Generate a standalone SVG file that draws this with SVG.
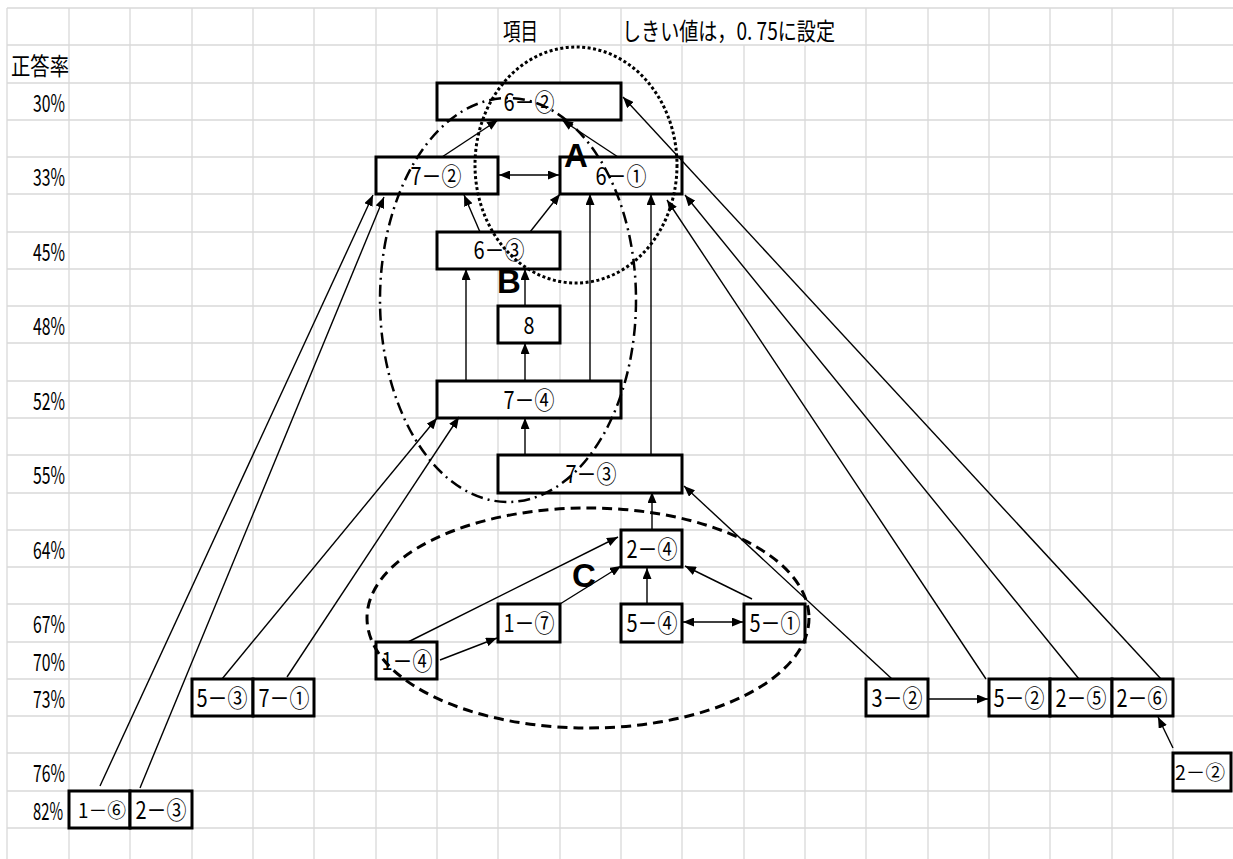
<svg xmlns="http://www.w3.org/2000/svg" width="1233" height="859" viewBox="0 0 1233 859">
<style>
.grid{stroke:#d9d9d9;stroke-width:1.3;fill:none}
.box{fill:#fff;stroke:#000;stroke-width:3}
.lbl{font-family:"Noto Sans CJK JP","Liberation Sans",sans-serif;font-size:24px;fill:#000;text-anchor:middle}
.sm{font-size:20px}
.pct{font-family:"Noto Sans CJK JP","Liberation Sans",sans-serif;font-size:24px;fill:#000;text-anchor:end}
.hdr{font-family:"Noto Sans CJK JP","Liberation Sans",sans-serif;font-size:24px;fill:#000}
.big{font-family:"Liberation Sans","Noto Sans CJK JP",sans-serif;font-size:33px;font-weight:bold;fill:#000}
.cn{stroke:#000;stroke-width:1.4;fill:none;marker-end:url(#ah)}
.dbl{marker-start:url(#ah)}
.ovl{fill:none;stroke:#000}
</style>
<defs>
<marker id="ah" markerUnits="userSpaceOnUse" markerWidth="11" markerHeight="9" refX="11" refY="4.5" orient="auto-start-reverse"><path d="M0,0 L11,4.5 L0,9 z" fill="#000"/></marker>
</defs>
<rect width="1233" height="859" fill="#fff"/>
<g id="grid">
<path class="grid" d="M7,8V859 M69,8V859 M130,8V859 M192,8V859 M253,8V859 M314,8V859 M376,8V859 M437,8V859 M498,8V859 M560,8V859 M621,8V859 M682,45V859 M744,45V859 M805,45V859 M866,8V859 M928,8V859 M989,8V859 M1050,8V859 M1112,8V859 M1173,8V859
M7,8H1233 M7,45H1233 M7,83H1233 M7,120H1233 M7,157H1233 M7,194H1233 M7,232H1233 M7,269H1233 M7,306H1233 M7,343H1233 M7,381H1233 M7,418H1233 M7,455H1233 M7,493H1233 M7,530H1233 M7,567H1233 M7,604H1233 M7,642H1233 M7,679H1233 M7,716H1233 M7,753H1233 M7,791H1233 M7,828H1233"/>
</g>
<g id="headers">
<text class="hdr" x="503" y="40" textLength="35" lengthAdjust="spacingAndGlyphs">項目</text>
<text class="hdr" x="622" y="40" textLength="213" lengthAdjust="spacingAndGlyphs">しきい値は，0. 75に設定</text>
<text class="hdr" x="11" y="75" textLength="58" lengthAdjust="spacingAndGlyphs">正答率</text>
<text class="pct" x="65" y="112" textLength="32" lengthAdjust="spacingAndGlyphs">30%</text>
<text class="pct" x="65" y="186" textLength="32" lengthAdjust="spacingAndGlyphs">33%</text>
<text class="pct" x="65" y="261" textLength="32" lengthAdjust="spacingAndGlyphs">45%</text>
<text class="pct" x="65" y="335" textLength="32" lengthAdjust="spacingAndGlyphs">48%</text>
<text class="pct" x="65" y="410" textLength="32" lengthAdjust="spacingAndGlyphs">52%</text>
<text class="pct" x="65" y="484" textLength="32" lengthAdjust="spacingAndGlyphs">55%</text>
<text class="pct" x="65" y="559" textLength="32" lengthAdjust="spacingAndGlyphs">64%</text>
<text class="pct" x="65" y="633" textLength="32" lengthAdjust="spacingAndGlyphs">67%</text>
<text class="pct" x="65" y="671" textLength="32" lengthAdjust="spacingAndGlyphs">70%</text>
<text class="pct" x="65" y="708" textLength="32" lengthAdjust="spacingAndGlyphs">73%</text>
<text class="pct" x="65" y="782" textLength="32" lengthAdjust="spacingAndGlyphs">76%</text>
<text class="pct" x="63" y="820" font-size="20" textLength="30" lengthAdjust="spacingAndGlyphs">82%</text>
</g>
<g id="n6_2"><rect class="box" x="437" y="83" width="184" height="37"/><text class="lbl" x="529" y="111" textLength="51" lengthAdjust="spacingAndGlyphs">6－②</text></g>
<g id="n7_2"><rect class="box" x="376" y="157" width="122" height="37"/><text class="lbl" x="436" y="185" textLength="51" lengthAdjust="spacingAndGlyphs">7－②</text></g>
<g id="n6_1"><rect class="box" x="560" y="157" width="122" height="37"/><text class="lbl" x="621" y="185" textLength="51" lengthAdjust="spacingAndGlyphs">6－①</text></g>
<g id="n6_3"><rect class="box" x="437" y="232" width="123" height="37"/><text class="lbl" x="499" y="259" textLength="51" lengthAdjust="spacingAndGlyphs">6－③</text></g>
<g id="n8"><rect class="box" x="498" y="306" width="62" height="37"/><text class="lbl" x="529" y="334" textLength="11" lengthAdjust="spacingAndGlyphs">8</text></g>
<g id="n7_4"><rect class="box" x="437" y="381" width="184" height="37"/><text class="lbl" x="529" y="409" textLength="51" lengthAdjust="spacingAndGlyphs">7－④</text></g>
<g id="n7_3"><rect class="box" x="498" y="455" width="184" height="38"/><text class="lbl" x="591" y="483" textLength="51" lengthAdjust="spacingAndGlyphs">7－③</text></g>
<g id="n2_4"><rect class="box" x="621" y="530" width="61" height="37"/><text class="lbl" x="652" y="558" textLength="51" lengthAdjust="spacingAndGlyphs">2－④</text></g>
<g id="n1_7"><rect class="box" x="498" y="604" width="62" height="38"/><text class="lbl" x="529" y="632" textLength="51" lengthAdjust="spacingAndGlyphs">1－⑦</text></g>
<g id="n5_4"><rect class="box" x="621" y="604" width="61" height="38"/><text class="lbl" x="652" y="632" textLength="51" lengthAdjust="spacingAndGlyphs">5－④</text></g>
<g id="n5_1"><rect class="box" x="744" y="604" width="61" height="38"/><text class="lbl" x="775" y="632" textLength="51" lengthAdjust="spacingAndGlyphs">5－①</text></g>
<g id="n1_4"><rect class="box" x="376" y="642" width="61" height="37"/><text class="lbl" x="407" y="670" textLength="51" lengthAdjust="spacingAndGlyphs">1－④</text></g>
<g id="n5_3"><rect class="box" x="192" y="679" width="61" height="37"/><text class="lbl" x="222" y="707" textLength="51" lengthAdjust="spacingAndGlyphs">5－③</text></g>
<g id="n7_1"><rect class="box" x="253" y="679" width="61" height="37"/><text class="lbl" x="284" y="707" textLength="51" lengthAdjust="spacingAndGlyphs">7－①</text></g>
<g id="n1_6"><rect class="box" x="69" y="791" width="61" height="37"/><text class="lbl sm" x="102" y="818" textLength="48" lengthAdjust="spacingAndGlyphs">1－⑥</text></g>
<g id="n2_3"><rect class="box" x="130" y="791" width="62" height="37"/><text class="lbl" x="161" y="819" textLength="51" lengthAdjust="spacingAndGlyphs">2－③</text></g>
<g id="n3_2"><rect class="box" x="866" y="679" width="62" height="37"/><text class="lbl" x="897" y="707" textLength="51" lengthAdjust="spacingAndGlyphs">3－②</text></g>
<g id="n5_2"><rect class="box" x="989" y="679" width="61" height="37"/><text class="lbl" x="1019" y="707" textLength="51" lengthAdjust="spacingAndGlyphs">5－②</text></g>
<g id="n2_5"><rect class="box" x="1050" y="679" width="62" height="37"/><text class="lbl" x="1081" y="707" textLength="51" lengthAdjust="spacingAndGlyphs">2－⑤</text></g>
<g id="n2_6"><rect class="box" x="1112" y="679" width="61" height="37"/><text class="lbl" x="1142" y="707" textLength="51" lengthAdjust="spacingAndGlyphs">2－⑥</text></g>
<g id="n2_2"><rect class="box" x="1173" y="753" width="58" height="38"/><text class="lbl sm" x="1200" y="780" textLength="50" lengthAdjust="spacingAndGlyphs">2－②</text></g>
<g id="connectors">
<path class="cn" d="M442,157 L498,120"/>
<path class="cn" d="M618,157 L562,120"/>
<path class="cn dbl" d="M499,175 L559,175"/>
<path class="cn" d="M480,232 L464,195"/>
<path class="cn" d="M530,232 L560,194"/>
<path class="cn" d="M466,381 L466,269"/>
<path class="cn" d="M525,306 L525,269"/>
<path class="cn" d="M525,381 L525,343"/>
<path class="cn" d="M590,381 L590,194"/>
<path class="cn" d="M651,455 L651,194"/>
<path class="cn" d="M525,455 L525,418"/>
<path class="cn" d="M652,530 L652,492"/>
<path class="cn" d="M560,604 L621,566"/>
<path class="cn" d="M408,642 L618,537"/>
<path class="cn" d="M440,660 L497,638"/>
<path class="cn" d="M647,604 L647,568"/>
<path class="cn dbl" d="M683,622 L743,622"/>
<path class="cn" d="M752,599 L685,566"/>
<path class="cn" d="M892,679 L684,486"/>
<path class="cn" d="M928,699 L988,699"/>
<path class="cn" d="M986,679 L667,200"/>
<path class="cn" d="M1079,679 L685,195"/>
<path class="cn" d="M1161,679 L623,97"/>
<path class="cn" d="M1173,748 L1158,717"/>
<path class="cn" d="M100,786 L373,195"/>
<path class="cn" d="M140,788 L384,197"/>
<path class="cn" d="M222,679 L437,418"/>
<path class="cn" d="M287,677 L459,417"/>
</g>
<g id="groups">
<ellipse class="ovl" cx="576" cy="165" rx="101" ry="118" stroke-width="3" stroke-dasharray="3 2.5"/>
<ellipse class="ovl" cx="508" cy="300" rx="128" ry="202" stroke-width="2.5" stroke-dasharray="12 5 2 5"/>
<ellipse class="ovl" cx="588" cy="618" rx="221" ry="110" stroke-width="3" stroke-dasharray="10 6"/>
<text class="big" x="564" y="167">A</text>
<text class="big" x="497" y="293" font-size="31">B</text>
<text class="big" x="572" y="587">C</text>
</g>
</svg>
